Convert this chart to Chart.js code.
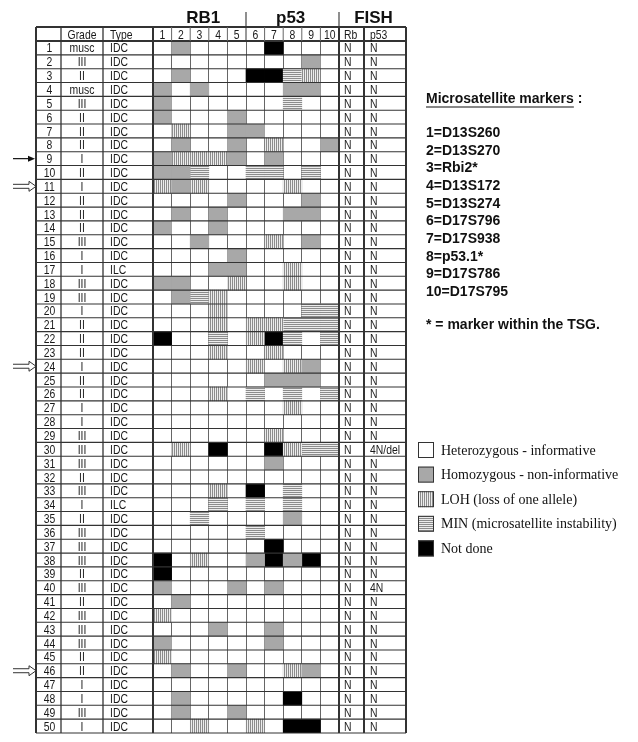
<!DOCTYPE html>
<html>
<head>
<meta charset="utf-8">
<script src="https://cdn.jsdelivr.net/npm/chart.js@4.4.1/dist/chart.umd.min.js"></script>
<style>
  body { margin: 0; background: #fff; }
  canvas { display: block; }
</style>
</head>
<body>
<canvas id="lohChart" width="638" height="742"></canvas>
<script>
// one string per tumour, one char per marker 1..10
// . = heterozygous, H = homozygous, V = LOH, S = MIN, X = not done
const markerStates = [
  ".H....X...", "........H.", ".H...XXSV.", "H.H....HH.", "H......S..",
  "H...H.....", ".V..HH....", ".H..H.V..H", "HVVVH.H...", "HHS..SS.S.",
  "VHV....V..", "....H...H.", ".H.H...HH.", "H..H......", "..H...V.H.",
  "....H.....", "...HH..V..", "HH..V..V..", ".HSV......", "...V....SS",
  "...V.VVSSS", "X..S.VXS.S", "...V..V...", ".....V.VH.", "......HHH.",
  "...V.S.S.S", ".......V..", "..........", "......V...", ".V.X..XVSS",
  "......H...", "..........", "...V.X.S..", "...S.S.S..", "..S....H..",
  ".....S....", "......X...", "X.V..HXHX.", "X.........", "H...H.H...",
  ".H........", "V.........", "...H..H...", "H.....H...", "V.........",
  ".H..H..VH.", "..........", ".H.....X..", ".H..H.....", "..V..V.XX."
];
const grades = [
  "musc", "III", "II", "musc", "III", "II", "II", "II", "I", "II",
  "I", "II", "II", "II", "III", "I", "I", "III", "III", "I",
  "II", "II", "II", "I", "II", "II", "I", "I", "III", "III",
  "III", "II", "III", "I", "II", "III", "III", "III", "II", "III",
  "II", "III", "III", "III", "II", "II", "I", "I", "III", "I"
];
const types = grades.map((g, i) => (i === 16 || i === 33) ? "ILC" : "IDC");
const fishRb = grades.map(() => "N");
const fishP53 = grades.map((g, i) => i === 29 ? "4N/del" : (i === 39 ? "4N" : "N"));
const markerCols = ["1", "2", "3", "4", "5", "6", "7", "8", "9", "10"];
const markerNames = ["1=D13S260", "2=D13S270", "3=Rbi2*", "4=D13S172", "5=D13S274",
  "6=D17S796", "7=D17S938", "8=p53.1*", "9=D17S786", "10=D17S795"];
const solidArrowRows = [9];
const hollowArrowRows = [11, 24, 46];

const stateInfo = [
  { code: ".", label: "Heterozygous - informative" },
  { code: "H", label: "Homozygous - non-informative" },
  { code: "V", label: "LOH (loss of one allele)" },
  { code: "S", label: "MIN (microsatellite instability)" },
  { code: "X", label: "Not done" }
];

function stripes(vertical) {
  const c = document.createElement("canvas");
  c.width = 2; c.height = 2;
  const g = c.getContext("2d");
  g.fillStyle = "#ececec"; g.fillRect(0, 0, 2, 2);
  g.fillStyle = "#8c8c8c";
  if (vertical) g.fillRect(0, 0, 1, 2); else g.fillRect(0, 0, 2, 1);
  return g.createPattern(c, "repeat");
}
const fills = { ".": "#ffffff", H: "#a8a8a8", V: stripes(true), S: stripes(false), X: "#000000" };

const datasets = stateInfo.filter(s => s.code !== ".").map(s => ({
  label: s.label,
  backgroundColor: fills[s.code],
  borderWidth: 0,
  borderSkipped: false,
  grouped: false,
  barPercentage: 1,
  categoryPercentage: 1,
  data: markerStates.flatMap((row, r) =>
    row.split("").map((ch, c) => ch === s.code ? { x: markerCols[c], y: [r, r + 1] } : null)
      .filter(Boolean))
}));

const line = (ctx, x1, y1, x2, y2, w, col) => {
  ctx.beginPath(); ctx.lineWidth = w; ctx.strokeStyle = col || "#333";
  ctx.moveTo(x1, y1); ctx.lineTo(x2, y2); ctx.stroke();
};

// narrow table text (no condensed font installed, so squeeze it)
const narrow = (ctx, txt, x, y, align) => {
  const w = ctx.measureText(txt).width * 0.8;
  const sx = align === "center" ? x - w / 2 : x;
  ctx.save();
  ctx.translate(sx, y);
  ctx.scale(0.8, 1);
  ctx.textAlign = "left";
  ctx.fillText(txt, 0, 0);
  ctx.restore();
};

const tablePlugin = {
  id: "tableParts",
  afterDraw(chart) {
    const ctx = chart.ctx, ca = chart.chartArea, ys = chart.scales.y;
    const tL = 36, cNum = 61, cGrade = 103, cRb = ca.right + 25, tR = ca.right + 67, hTop = 27;
    const colW = (ca.right - ca.left) / markerCols.length;
    ctx.save();
    // horizontal lines
    line(ctx, tL, hTop, tR, hTop, 2);
    for (let k = 0; k <= markerStates.length; k++) {
      const y = ys.getPixelForValue(k);
      line(ctx, tL, y, tR, y, k === 0 ? 2 : 1.1);
    }
    // vertical lines
    [[tL, 2], [cNum, 1.3], [cGrade, 1.3], [ca.left, 2], [ca.right, 2], [cRb, 2], [tR, 2]]
      .forEach(([x, w]) => line(ctx, x, hTop, x, ca.bottom, w));
    for (let i = 1; i < markerCols.length; i++) {
      const x = ca.left + i * colW;
      line(ctx, x, hTop, x, ca.top, 1, i === 5 ? "#333" : "#666");
    }
    // header
    ctx.fillStyle = "#1a1a1a";
    ctx.textBaseline = "middle";
    ctx.font = "13px 'Liberation Sans', Arial";
    const hY = (hTop + ca.top) / 2 + 1;
    narrow(ctx, "Grade", (cNum + cGrade) / 2, hY, "center");
    markerCols.forEach((m, i) => narrow(ctx, m, ca.left + (i + 0.5) * colW, hY, "center"));
    narrow(ctx, "Type", cGrade + 7, hY);
    narrow(ctx, "Rb", ca.right + 5, hY);
    narrow(ctx, "p53", cRb + 6, hY);
    // rows
    markerStates.forEach((row, r) => {
      const y = ys.getPixelForValue(r + 0.5) + 1;
      narrow(ctx, String(r + 1), (tL + cNum) / 2 + 1, y, "center");
      narrow(ctx, grades[r], (cNum + cGrade) / 2, y, "center");
      narrow(ctx, types[r], cGrade + 7, y);
      narrow(ctx, fishRb[r], ca.right + 5, y);
      narrow(ctx, fishP53[r], cRb + 6, y);
    });
    // group titles
    ctx.font = "bold 17px 'Liberation Sans', Arial";
    ctx.textAlign = "center";
    ctx.fillStyle = "#111";
    ctx.fillText("RB1", ca.left + 2.7 * colW, 18);
    ctx.fillText("p53", ca.left + 7.4 * colW, 18);
    ctx.fillText("FISH", (ca.right + tR) / 2 + 1, 18);
    line(ctx, ca.left + 5 * colW, 12, ca.left + 5 * colW, 26, 1.2, "#444");
    line(ctx, ca.right, 12, ca.right, 26, 1.2, "#444");
    // arrows
    solidArrowRows.forEach(rn => {
      const y = ys.getPixelForValue(rn - 0.5);
      line(ctx, 13, y, 30, y, 1.2, "#111");
      ctx.beginPath(); ctx.fillStyle = "#111";
      ctx.moveTo(35, y); ctx.lineTo(28, y - 3); ctx.lineTo(28, y + 3); ctx.closePath(); ctx.fill();
    });
    hollowArrowRows.forEach(rn => {
      const y = ys.getPixelForValue(rn - 0.5);
      ctx.beginPath(); ctx.lineWidth = 1; ctx.strokeStyle = "#333";
      ctx.moveTo(13, y - 2); ctx.lineTo(29, y - 2); ctx.lineTo(29, y - 5); ctx.lineTo(36, y);
      ctx.lineTo(29, y + 5); ctx.lineTo(29, y + 2); ctx.lineTo(13, y + 2);
      ctx.stroke();
    });
    // marker list
    ctx.fillStyle = "#111";
    ctx.textAlign = "left";
    ctx.font = "bold 14px 'Liberation Sans', Arial";
    const title = "Microsatellite markers";
    ctx.fillText(title + " :", 426, 99);
    line(ctx, 426, 107, 426 + ctx.measureText(title).width, 107, 1.2, "#111");
    markerNames.forEach((t, i) => ctx.fillText(t, 426, 133 + i * 17.7));
    ctx.fillText("* = marker within the TSG.", 426, 325);
    // state legend
    ctx.font = "14px 'Liberation Serif', 'Times New Roman', serif";
    stateInfo.forEach((s, i) => {
      const y = 450 + i * 24.6;
      ctx.fillStyle = fills[s.code];
      ctx.fillRect(418, y - 8, 16, 16);
      ctx.lineWidth = 1; ctx.strokeStyle = "#333";
      ctx.strokeRect(418.5, y - 7.5, 15, 15);
      ctx.fillStyle = "#111";
      ctx.fillText(s.label, 441, y + 1);
    });
    ctx.restore();
  }
};

new Chart(document.getElementById("lohChart").getContext("2d"), {
  type: "bar",
  data: { labels: markerCols, datasets: datasets },
  options: {
    responsive: false,
    animation: false,
    devicePixelRatio: 1,
    layout: { padding: { left: 153, right: 299, top: 41, bottom: 9 } },
    plugins: { legend: { display: false }, tooltip: { enabled: false } },
    scales: {
      x: {
        type: "category",
        offset: true,
        z: 1,
        grid: { offset: true, drawTicks: false, color: "#666", lineWidth: 1 },
        border: { display: false },
        ticks: { display: false },
        afterFit: s => { s.height = 0; }
      },
      y: {
        type: "linear",
        min: 0,
        max: markerStates.length,
        reverse: true,
        z: 1,
        grid: { display: false, drawTicks: false },
        border: { display: false },
        ticks: { display: false, stepSize: 1 },
        afterFit: s => { s.width = 0; }
      }
    }
  },
  plugins: [tablePlugin]
});
</script>
</body>
</html>
